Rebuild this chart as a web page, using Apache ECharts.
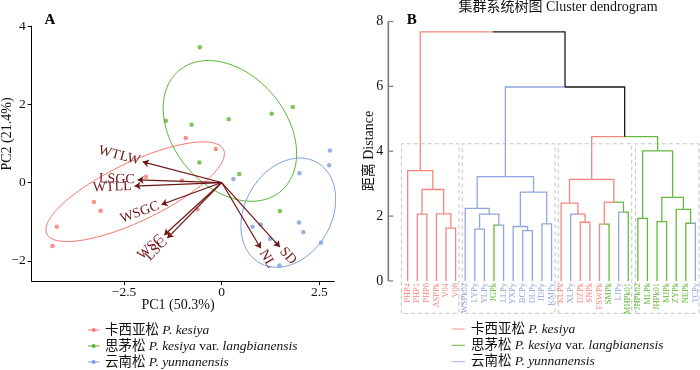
<!DOCTYPE html>
<html><head><meta charset="utf-8">
<script src="https://cdn.jsdelivr.net/npm/echarts@6/dist/echarts.min.js"></script>
<style>html,body{margin:0;padding:0;background:#fff}#c{width:700px;height:370px}</style>
</head><body><div id="c"></div>
<script>
// ================= DATA =================
// Panel A: PCA scores (PC1, PC2) per species
const kesiyaPC1 = [-0.92, -0.15, -1.94, -1.02, -3.27, -3.10, -0.62, -4.22, -4.33];
const kesiyaPC2 = [1.14, 0.86, 0.15, 0.05, -0.50, -0.72, -0.68, -1.13, -1.62];
const langbPC1  = [-0.56, -1.43, -0.77, 0.18, 1.28, 1.82, -0.57, 0.45, 1.49];
const langbPC2  = [3.46, 1.58, 1.48, 1.62, 1.76, 1.93, 0.51, 0.22, -0.73];
const yunnPC1   = [2.77, 2.75, 1.99, 0.30, 1.98, 2.09, 0.79, 1.00, 1.24, 1.40, 2.54, 1.48];
const yunnPC2   = [0.82, 0.44, 0.24, 0.09, -1.02, -1.27, -1.13, -1.07, -1.44, -1.56, -1.54, -2.12];

// Panel A: loading vectors
const loadingNames = ['WTLW', 'LSGC', 'WTLL', 'WSGC', 'WSC', 'LSC', 'NL', 'SD'];
const loadingPC1 = [-2.02, -2.15, -2.23, -1.54, -1.47, -1.39, 1.00, 1.49];
const loadingPC2 = [0.53, 0.07, -0.09, -0.56, -1.34, -1.42, -1.68, -1.65];

// Panel A: confidence ellipses (kesiya, langbianensis, yunnanensis)
const ellipseCX = [-2.215, 0.21, 1.705];
const ellipseCY = [-0.235, 1.32, -0.77];
const ellipseSemiA = [2.507, 2.02, 1.48];
const ellipseSemiB = [0.75, 1.44, 1.11];
const ellipseAngleDeg = [25.5, -49.6, 60];

// Tick labels
const xTicksA = [-2.5, 0, 2.5];
const yTicksA = [-2, 0, 2, 4];
const yTicksB = [0, 2, 4, 6, 8];

// Panel B: dendrogram leaves (display order) and species (K/L/Y)
const leafLabels = ['PHP4','PHP1','PHP8','ASPPk','V04','V08','WSPk02','LYPy','YLPy','JGPk','LLPy','YXPy','BCPy','DLPy','JDPy','KMPy','KLPk','XLPy','DZPk','SNPk','FSWPk','SMPk','LJPy','MHPk01','JHPk02','MLPk','JHPk01','MJPk','ZYPk','NEPk','TCPy'];
const leafSpecies = ['K','K','K','K','K','K','Y','Y','Y','L','Y','Y','Y','Y','Y','Y','K','Y','K','K','K','L','Y','L','L','L','L','L','L','L','Y'];
// merges (hclust style: negative = leaf -(i+1), positive = merge number)
const mergeLeft  = [-5, -2, -4, 2, -1, -8, -10, 6, -7, -13, -12, -15, 11, 9, -19, -18, -17, -21, -23, 18, 17, -25, -27, -30, -29, 23, 22, 21, 14, 5];
const mergeRight = [-6, -3, 1, 3, 4, -9, -11, 7, 8, -14, 10, -16, 12, 13, -20, 15, 16, -22, -24, 19, 20, -26, -28, -31, 24, 25, 26, 27, 28, 29];
const mergeHeight = [1.63, 2.06, 2.07, 2.82, 3.40, 1.60, 1.72, 2.06, 2.24, 1.55, 1.68, 1.76, 2.74, 3.22, 1.81, 2.06, 2.40, 1.75, 2.12, 2.43, 3.13, 1.93, 1.83, 1.78, 2.21, 2.58, 4.01, 4.45, 5.98, 7.68];
const mergeColor = ['K','K','K','K','K','Y','Y','Y','Y','Y','Y','Y','Y','Y','K','K','K','K','L','K','K','L','L','L','L','L','L','N','N','N'];
// cluster rectangles (in leaf-position units) and heights
const clusterBoxLeft  = [-0.65, 5.7, 15.7, 23.75];
const clusterBoxRight = [5.35, 15.37, 23.36, 30.38];
const clusterBoxTop = 4.23;
const clusterBoxBottom = -1.0;

// ================= STYLE =================
const SERIF = "'Liberation Serif', 'Noto Sans CJK SC', serif";
const ptColor = {K: '#F8766D', L: '#5BB431', Y: '#7C9CE0'};
const dendColor = {K: '#F4867E', L: '#66B83C', Y: '#8FA6DE', N: '#1a1a1a'};
const labColor = {K: '#F4867E', L: '#5DB530', Y: '#8CA3DD'};
const legBColor = {K: '#F7ABA5', L: '#7CC655', Y: '#B2C2EA'};
const arrowColor = '#6E1414';

function zip(a, b) { return a.map((v, i) => [v, b[i]]); }
function ellipse(k) {
  const pts = [], th = ellipseAngleDeg[k] * Math.PI / 180;
  for (let i = 0; i <= 120; i++) {
    const t = i / 120 * 2 * Math.PI;
    const u = ellipseSemiA[k] * Math.cos(t), v = ellipseSemiB[k] * Math.sin(t);
    pts.push([ellipseCX[k] + u * Math.cos(th) - v * Math.sin(th), ellipseCY[k] + u * Math.sin(th) + v * Math.cos(th)]);
  }
  return pts;
}
function fmt(v) { return (v < 0 ? '\u2212' : '') + Math.abs(v); }

// ---- dendrogram geometry ----
const nodeX = [], nodeH = [];
function ref(r) { return r < 0 ? {x: -r - 1, h: 0} : {x: nodeX[r - 1], h: nodeH[r - 1]}; }
for (let k = 0; k < mergeHeight.length; k++) {
  nodeX[k] = (ref(mergeLeft[k]).x + ref(mergeRight[k]).x) / 2;
  nodeH[k] = mergeHeight[k];
}
const edges = [];
for (let k = 0; k < mergeHeight.length; k++) {
  [mergeLeft[k], mergeRight[k]].forEach(c => {
    const ch = ref(c);
    const col = c < 0 ? dendColor[leafSpecies[-c - 1]] : dendColor[mergeColor[c - 1]];
    edges.push({coords: [[ch.x, ch.h], [ch.x, nodeH[k]], [nodeX[k], nodeH[k]]], lineStyle: {color: col}});
  });
}
const boxes = clusterBoxLeft.map((l, i) => ({
  coords: [[l, clusterBoxBottom], [l, clusterBoxTop], [clusterBoxRight[i], clusterBoxTop], [clusterBoxRight[i], clusterBoxBottom], [l, clusterBoxBottom]]
}));

const xMinB = -2.02, xMaxB = 30.48;
const tickLenB = 0.52; // ~5px in leaf units

const chart = echarts.init(document.getElementById('c'), null, {renderer: 'canvas', width: 700, height: 370});

const axisFont = {fontFamily: SERIF, fontSize: 13.5, color: '#111'};
const noBorder = {textBorderWidth: 0, textBorderColor: 'transparent', textShadowBlur: 0};

const option = {
  animation: false,
  backgroundColor: '#fff',
  grid: [
    {left: 31.7, right: 365.8, top: 26.1, bottom: 88.9, containLabel: false, outerBoundsMode: 'none'},
    {left: 388.3, right: 0, top: 21.5, bottom: 56.6, containLabel: false, outerBoundsMode: 'none'}
  ],
  xAxis: [
    {type: 'value', gridIndex: 0, min: -4.863, max: 2.88,
     axisLine: {show: true, onZero: false, lineStyle: {color: '#000', width: 1}},
     axisTick: {show: true, customValues: xTicksA, length: 4, lineStyle: {color: '#000'}},
     axisLabel: Object.assign({customValues: xTicksA, formatter: fmt, margin: 5}, axisFont),
     splitLine: {show: false}},
    {type: 'value', gridIndex: 1, min: xMinB, max: xMaxB, show: false}
  ],
  yAxis: [
    {type: 'value', gridIndex: 0, min: -2.52, max: 4.0,
     axisLine: {show: true, onZero: false, lineStyle: {color: '#000', width: 1}},
     axisTick: {show: true, customValues: yTicksA, length: 4, lineStyle: {color: '#000'}},
     axisLabel: Object.assign({customValues: yTicksA, formatter: fmt, margin: 6}, axisFont),
     splitLine: {show: false}},
    {type: 'value', gridIndex: 1, min: clusterBoxBottom, max: 8,
     axisLine: {show: false},
     axisTick: {show: false},
     axisLabel: Object.assign({customValues: yTicksB, margin: 5}, axisFont, {fontSize: 14}),
     splitLine: {show: false}}
  ],
  series: [
    // ellipses
    ...['K', 'L', 'Y'].map((g, k) => ({
      type: 'line', xAxisIndex: 0, yAxisIndex: 0, data: ellipse(k), showSymbol: false, symbol: 'none',
      lineStyle: {color: ptColor[g], width: 1}, silent: true, z: 2
    })),
    // points
    {type: 'scatter', xAxisIndex: 0, yAxisIndex: 0, data: zip(kesiyaPC1, kesiyaPC2), symbolSize: 4.5, itemStyle: {color: ptColor.K}, z: 3},
    {type: 'scatter', xAxisIndex: 0, yAxisIndex: 0, data: zip(langbPC1, langbPC2), symbolSize: 4.5, itemStyle: {color: ptColor.L}, z: 3},
    {type: 'scatter', xAxisIndex: 0, yAxisIndex: 0, data: zip(yunnPC1, yunnPC2), symbolSize: 4.5, itemStyle: {color: ptColor.Y}, z: 3},
    // loading arrows
    {type: 'lines', coordinateSystem: 'cartesian2d', xAxisIndex: 0, yAxisIndex: 0,
     symbol: ['none', 'arrow'], symbolSize: 6,
     lineStyle: {color: arrowColor, width: 1.2, opacity: 1},
     data: loadingPC1.map((x, i) => ({coords: [[0, 0], [x, loadingPC2[i]]]})), z: 4},
    // loading labels
    {type: 'scatter', xAxisIndex: 0, yAxisIndex: 0, symbolSize: 0, z: 5, itemStyle: {opacity: 0},
     data: loadingPC1.map((x, i) => {
       const y = loadingPC2[i];
       const ang = Math.atan(y / x) * 180 / Math.PI;
       return {value: [x, y], label: Object.assign({
         show: true, position: [0, 0], rotate: ang, align: x < 0 ? 'right' : 'left', verticalAlign: 'middle',
         padding: x < 0 ? [0, 3, 0, 0] : [0, 0, 0, 3],
         formatter: loadingNames[i], color: arrowColor, opacity: 1, fontFamily: SERIF, fontSize: 14}, noBorder)};
     })},
    // dendrogram edges
    {type: 'lines', coordinateSystem: 'cartesian2d', xAxisIndex: 1, yAxisIndex: 1, polyline: true,
     lineStyle: {width: 1.3, opacity: 1}, data: edges, z: 3},
    // cluster boxes
    {type: 'lines', coordinateSystem: 'cartesian2d', xAxisIndex: 1, yAxisIndex: 1, polyline: true,
     lineStyle: {width: 1, color: '#C4C4C4', type: [4, 3], opacity: 1}, data: boxes, z: 2},
    // B y axis line (0 to 8) and inward ticks
    {type: 'lines', coordinateSystem: 'cartesian2d', xAxisIndex: 1, yAxisIndex: 1, clip: false, polyline: true,
     lineStyle: {width: 1.6, color: '#7a7a7a', opacity: 1},
     data: [{coords: [[xMinB, yTicksB[0]], [xMinB, yTicksB[yTicksB.length - 1]]]}].concat(
       yTicksB.map(v => ({coords: [[xMinB, v], [xMinB + tickLenB, v]], lineStyle: {width: 1.2}}))), z: 4},
    // leaf labels
    {type: 'scatter', xAxisIndex: 1, yAxisIndex: 1, symbolSize: 0, z: 5, itemStyle: {opacity: 0},
     data: leafLabels.map((n, i) => ({value: [i, 0], label: Object.assign({
       show: true, position: [0, 0], rotate: 90, align: 'right', verticalAlign: 'middle', padding: [0, 2, 0, 0],
       formatter: n, color: labColor[leafSpecies[i]], opacity: 1, fontFamily: SERIF, fontSize: 8.5}, noBorder)}))}
  ],
  graphic: [
    {type: 'text', x: 50, y: 20.5, style: {text: 'A', fontFamily: SERIF, fontSize: 15, fontWeight: 'bold', fill: '#000', align: 'center', verticalAlign: 'middle'}},
    {type: 'text', x: 411.7, y: 20, style: {text: 'B', fontFamily: SERIF, fontSize: 15, fontWeight: 'bold', fill: '#000', align: 'center', verticalAlign: 'middle'}},
    {type: 'text', x: 558, y: 7, style: {text: '集群系统树图 Cluster dendrogram', fontFamily: SERIF, fontSize: 14, fill: '#111', align: 'center', verticalAlign: 'middle'}},
    {type: 'text', x: 178, y: 305, style: {text: 'PC1 (50.3%)', fontFamily: SERIF, fontSize: 14, fill: '#111', align: 'center', verticalAlign: 'middle'}},
    {type: 'text', x: 7, y: 134, rotation: Math.PI / 2, style: {text: 'PC2 (21.4%)', fontFamily: SERIF, fontSize: 14, fill: '#111', align: 'center', verticalAlign: 'middle'}},
    {type: 'text', x: 369, y: 151, rotation: Math.PI / 2, style: {text: '距离 Distance', fontFamily: SERIF, fontSize: 14, fill: '#111', align: 'center', verticalAlign: 'middle'}},
    // legend A
    ...[['K', '{c|卡西亚松} {i|P. kesiya}'], ['L', '{c|思茅松} {i|P. kesiya} var. {i|langbianensis}'], ['Y', '{c|云南松} {i|P. yunnanensis}']].flatMap(([g, t], r) => {
      const y = 330 + r * 16;
      return [
        {type: 'line', shape: {x1: 88, y1: y, x2: 99.5, y2: y}, style: {stroke: ptColor[g], lineWidth: 1}},
        {type: 'circle', shape: {cx: 93.7, cy: y, r: 1.9}, style: {fill: ptColor[g]}},
        {type: 'text', x: 105, y: y, style: {text: t, fontFamily: SERIF, fontSize: 13.5, fill: '#111', verticalAlign: 'middle', align: 'left',
          rich: {c: {fontFamily: SERIF, fontSize: 13.5, fill: '#111'}, i: {fontFamily: SERIF, fontSize: 13.5, fontStyle: 'italic', fill: '#111'}}}}
      ];
    }),
    // legend B
    ...[['K', '{c|卡西亚松} {i|P. kesiya}'], ['L', '{c|思茅松} {i|P. kesiya} var. {i|langbianensis}'], ['Y', '{c|云南松} {i|P. yunnanensis}']].flatMap(([g, t], r) => {
      const y = 329 + r * 16.3;
      return [
        {type: 'line', shape: {x1: 451.5, y1: y, x2: 465, y2: y}, style: {stroke: legBColor[g], lineWidth: 1.2}},
        {type: 'text', x: 471, y: y, style: {text: t, fontFamily: SERIF, fontSize: 13.5, fill: '#111', verticalAlign: 'middle', align: 'left',
          rich: {c: {fontFamily: SERIF, fontSize: 13.5, fill: '#111'}, i: {fontFamily: SERIF, fontSize: 13.5, fontStyle: 'italic', fill: '#111'}}}}
      ];
    })
  ]
};
chart.setOption(option);
</script>
</body></html>
